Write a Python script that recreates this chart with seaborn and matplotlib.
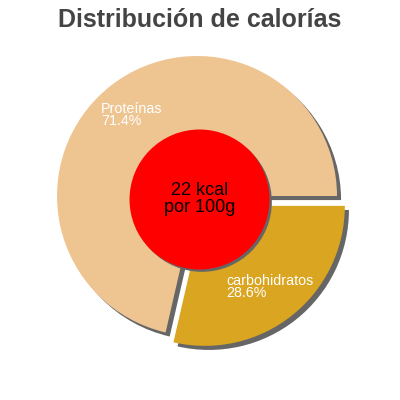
import numpy as np
import matplotlib
matplotlib.use('Agg')
import matplotlib.pyplot as plt
import matplotlib.patches as mpatches
import seaborn as sns

sns.set_theme(style='white')
plt.rcParams['font.family'] = ['Liberation Sans', 'DejaVu Sans']

# data
categories = ['Proteínas', 'carbohidratos']
shares = [71.4, 28.6]
colors = ['#EEC591', '#DAA520']
explode = [0, 0.09]
title = 'Distribución de calorías'
center_text = '22 kcal\npor 100g'

fig = plt.figure(figsize=(4, 4), dpi=100)
ax = fig.add_axes([0, 0, 1, 1])

# shadow offset is in data units scaled by dpi/72 (~4 px here)
shadow = {'ox': 0.021, 'oy': -0.021, 'facecolor': '#666666', 'edgecolor': 'none', 'alpha': 1}
wedges, _ = ax.pie(shares, colors=colors, explode=explode, startangle=0,
                   counterclock=True, radius=1, shadow=shadow,
                   wedgeprops={'linewidth': 0})

# labels inside the slices
for w, name, val in zip(wedges, categories, shares):
    mid = np.deg2rad((w.theta1 + w.theta2) / 2)
    cx, cy = w.center
    ax.text(cx + 0.75 * np.cos(mid), cy + 0.74 * np.sin(mid),
            f'{name}\n{val}%', ha='center', va='center', multialignment='left',
            color='white', fontsize=10.3, linespacing=0.88)

# red centre disc with shadow
disc = mpatches.Circle((0.018, -0.025), 0.5, facecolor='#FF0000', edgecolor='none', zorder=5)
ax.add_patch(mpatches.Shadow(disc, 0.012, -0.012, facecolor='#666666', edgecolor='none',
                             alpha=1, zorder=4))
ax.add_patch(disc)
ax.text(0.018, -0.025, center_text, ha='center', va='center', fontsize=13,
        color='black', zorder=6, linespacing=1.0)

ax.set_xlim(-197 / 140, 203 / 140)
ax.set_ylim(-204 / 140, 196 / 140)
ax.set_aspect('equal')
ax.axis('off')

fig.text(0.5, 0.95, title, ha='center', va='center', fontsize=18,
         fontweight='bold', color='#444444')

plt.savefig('out.png', dpi=100)
plt.close()
